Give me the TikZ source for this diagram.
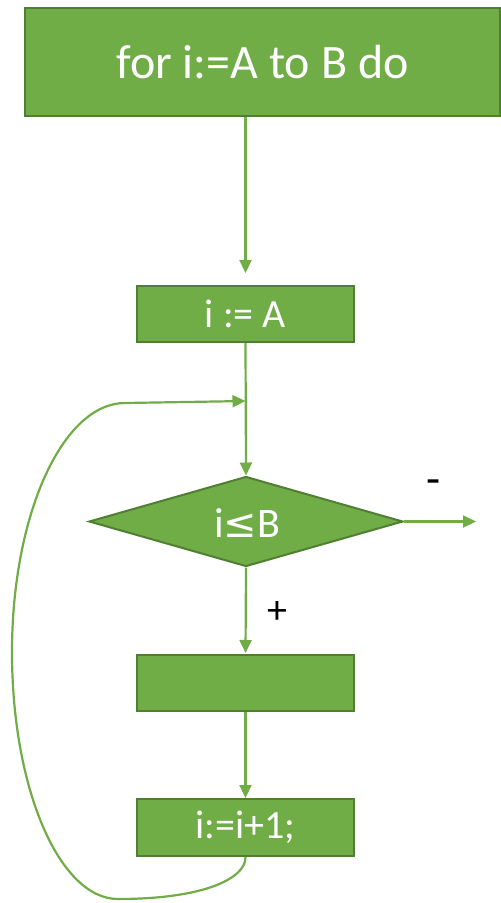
\documentclass[tikz,border=0pt]{standalone}
\usepackage{fontspec}
\setmainfont{Carlito}
\newfontfamily\dejavu{DejaVu Sans}
\usetikzlibrary{shapes.geometric,arrows.meta}
\definecolor{gfill}{HTML}{70AD47}
\definecolor{gline}{HTML}{507E32}
\begin{document}
\begin{tikzpicture}[x=1pt,y=-1pt,
  blk/.style={draw=gline,fill=gfill,line width=2pt,rectangle,inner sep=0pt,text=white,font=\fontsize{40}{44}\selectfont},
  dia/.style={draw=gline,fill=gfill,line width=2pt,diamond,aspect=3.5,inner sep=0pt},
  conn/.style={draw=gfill,line width=2.2pt},
  arr/.style={conn,-{Triangle[length=13pt,width=12pt]}},
  lbl/.style={text=black,font=\fontsize{40}{44}\selectfont,inner sep=0pt}]
\useasboundingbox (0,0) rectangle (501,903);
\node[blk,minimum width=475,minimum height=108,font=\fontsize{48}{52}\selectfont] (b1) at (262.5,62) {for i:=A to B do};
\node[blk,minimum width=217,minimum height=56] (b2) at (245.5,314) {i := A};
\node[dia,minimum width=314,minimum height=90] (d) at (246,521.5) {};
\node[text=white,font=\fontsize{42}{46}\selectfont,inner sep=0pt,anchor=base] (dt) at (247,537) {i{\dejavu\fontsize{40}{44}\selectfont ≤}B};
\node[blk,minimum width=217,minimum height=56] (b3) at (245.5,683) {};
\node[blk,minimum width=217,minimum height=57] (b4) at (245.5,827.5) {i:=i+1;};
\coordinate (exit) at (476,521.5);
\coordinate (join) at (245.5,401);
\node[lbl,font=\fontsize{46}{50}\selectfont] (minus) at (434,487) {-};
\node[lbl] (plus) at (277,612) {+};
\draw[arr,shorten >=12pt] (b1.south -| b2.north) -- (b2.north);
\draw[arr] (b2.south) -- (d.north);
\draw[arr] (d.east) -- (exit);
\draw[arr,shorten >=1pt] (d.south) -- (b3.north);
\draw[arr] (b3.south) -- (b4.north);
\draw[arr] (b4.south) .. controls (246,878) and (205,899) .. (118,899)
  .. controls (60,899) and (12,790) .. (12,652)
  .. controls (12,514) and (63,403) .. (125,403) -- (join);
\end{tikzpicture}
\end{document}
